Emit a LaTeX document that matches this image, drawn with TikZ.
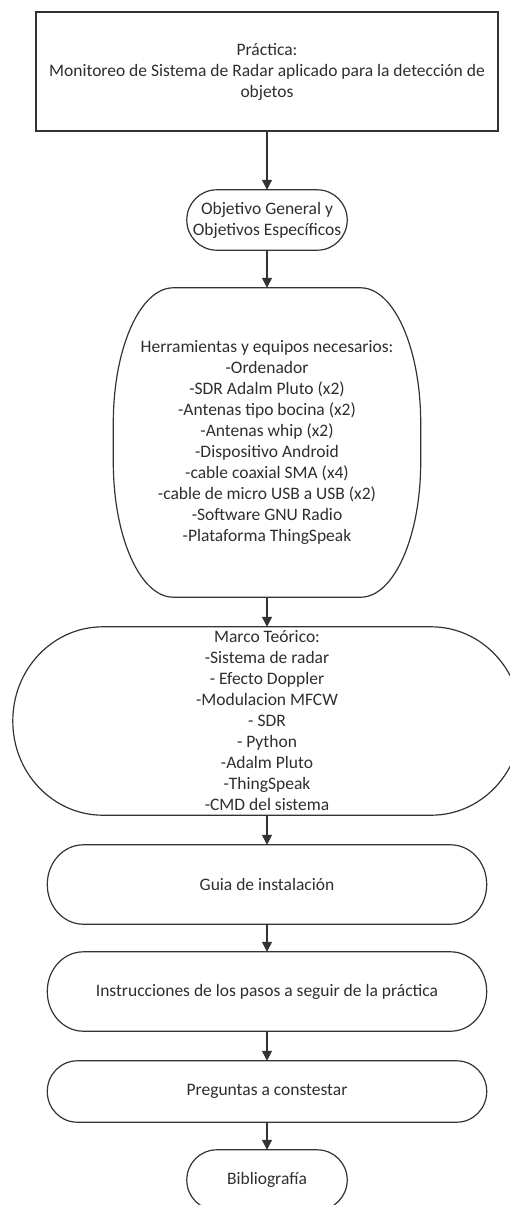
\documentclass[tikz,border=0pt]{standalone}
\usepackage{fontspec}
\setmainfont{Carlito}
\usetikzlibrary{arrows.meta,calc}
\definecolor{txt}{HTML}{2E2E2E}
\definecolor{edge}{HTML}{333333}
\newcommand\rbox[3]{%
  \draw[outline] ($(#1.north west)+(#2,0)$) -- ($(#1.north east)+(-#2,0)$)
    arc[start angle=90,end angle=0,x radius=#2,y radius=#3]
    -- ($(#1.south east)+(0,#3)$)
    arc[start angle=0,end angle=-90,x radius=#2,y radius=#3]
    -- ($(#1.south west)+(#2,0)$)
    arc[start angle=270,end angle=180,x radius=#2,y radius=#3]
    -- ($(#1.north west)+(0,-#3)$)
    arc[start angle=180,end angle=90,x radius=#2,y radius=#3] -- cycle;}
\begin{document}
\begin{tikzpicture}[x=1pt,y=1pt,
  lbl/.style={inner sep=0pt, align=center, text=txt,
    font=\fontsize{17.5}{21}\selectfont},
  outline/.style={draw=edge, line width=1.2pt},
  arr/.style={draw=edge, line width=1.2pt, -{Triangle[width=10pt,length=10pt]}}]
\useasboundingbox (0,0) rectangle (510,-1205);

\node[lbl, draw=edge, line width=1.2pt, minimum width=462pt, minimum height=119pt] (n1) at (267,-71.5)
  {Práctica:\\Monitoreo de Sistema de Radar aplicado para la detección de\\objetos};

\node[lbl, minimum width=160pt, minimum height=60pt] (n2) at (267,-220)
  {Objetivo General y\\Objetivos Específicos};
\rbox{n2}{30pt}{30pt}

\node[lbl, minimum width=307pt, minimum height=309pt] (n3) at (267,-442.5)
  {Herramientas y equipos necesarios:\\-Ordenador\\-SDR Adalm Pluto (x2)\\-Antenas tipo bocina (x2)\\-Antenas whip (x2)\\-Dispositivo Android\\-cable coaxial SMA (x4)\\-cable de micro USB a USB (x2)\\-Software GNU Radio\\-Plataforma ThingSpeak};
\rbox{n3}{60pt}{135pt}

\node[lbl, minimum width=508pt, minimum height=188pt] (n4) at (267,-721)
  {Marco Teórico:\\-Sistema de radar\\- Efecto Doppler\\-Modulacion MFCW\\- SDR\\- Python\\-Adalm Pluto\\-ThingSpeak\\-CMD del sistema};
\rbox{n4}{90pt}{94pt}

\node[lbl, minimum width=439pt, minimum height=79pt] (n5) at (267,-884.5)
  {Guia de instalación};
\rbox{n5}{36pt}{39.5pt}

\node[lbl, minimum width=439pt, minimum height=79pt] (n6) at (267,-991.5)
  {Instrucciones de los pasos a seguir de la práctica};
\rbox{n6}{36pt}{39.5pt}

\node[lbl, minimum width=439pt, minimum height=61pt] (n7) at (267,-1091.5)
  {Preguntas a constestar};
\rbox{n7}{30pt}{30.5pt}

\node[lbl, minimum width=160pt, minimum height=60pt] (n8) at (267,-1180)
  {Bibliografía};
\rbox{n8}{30pt}{30pt}

\draw[arr] (n1) -- (n2);
\draw[arr] (n2) -- (n3);
\draw[arr] (n3) -- (n4);
\draw[arr] (n4) -- (n5);
\draw[arr] (n5) -- (n6);
\draw[arr] (n6) -- (n7);
\draw[arr] (n7) -- (n8);
\end{tikzpicture}
\end{document}
